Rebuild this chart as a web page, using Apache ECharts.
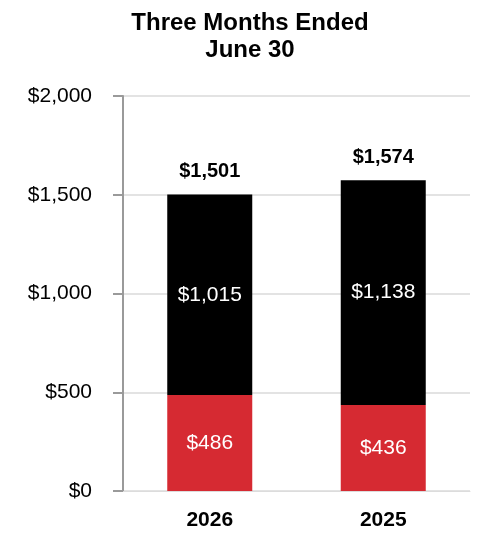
<!DOCTYPE html>
<html><head><meta charset="utf-8">
<script src="https://cdn.jsdelivr.net/npm/echarts@6/dist/echarts.min.js"></script>
<style>html,body{margin:0;padding:0;background:#fff}#c{width:500px;height:540px}</style>
</head><body><div id="c"></div>
<script>
const categories = ['2026', '2025'];
const redValues = [486, 436];
const blackValues = [1015, 1138];
const totals = [1501, 1574];
const yTicks = [0, 500, 1000, 1500, 2000];

const fmt = v => '$' + v.toLocaleString('en-US');
const FONT = '"Liberation Sans", Arial, sans-serif';

const chart = echarts.init(document.getElementById('c'));
chart.setOption({
  animation: false,
  title: {
    text: 'Three Months Ended\nJune 30',
    left: 245, top: 5, textAlign: 'center',
    textStyle: { fontFamily: FONT, fontSize: 24, fontWeight: 'bold', color: '#000', lineHeight: 27 }
  },
  grid: { left: 123, right: 30, top: 96, bottom: 49, containLabel: false },
  xAxis: {
    type: 'category', data: categories,
    axisLine: { lineStyle: { color: '#dcdcdc' } },
    axisTick: { show: false },
    axisLabel: { fontFamily: FONT, fontSize: 21, fontWeight: 'bold', color: '#000', margin: 19 }
  },
  yAxis: {
    type: 'value', min: yTicks[0], max: yTicks[yTicks.length - 1], interval: 500,
    axisLine: { show: true, lineStyle: { color: '#9a9a9a', width: 2 } },
    axisTick: { show: true, length: 10, lineStyle: { color: '#9a9a9a', width: 2 } },
    splitLine: { lineStyle: { color: '#e3e3e3', width: 2 } },
    axisLabel: { fontFamily: FONT, fontSize: 21, color: '#000', margin: 31, formatter: v => fmt(v) }
  },
  series: [
    {
      type: 'bar', stack: 't', data: redValues, barWidth: 85,
      itemStyle: { color: '#d62a32' },
      label: { show: true, position: 'inside', color: '#fff', fontFamily: FONT, fontSize: 21, formatter: p => fmt(p.value) }
    },
    {
      type: 'bar', stack: 't', data: blackValues, barWidth: 85,
      itemStyle: { color: '#000' },
      label: { show: true, position: 'inside', color: '#fff', fontFamily: FONT, fontSize: 21, formatter: p => fmt(p.value) }
    },
    {
      type: 'scatter', data: totals, symbolSize: 0, silent: true,
      itemStyle: { opacity: 1, color: '#000' },
      label: { show: true, position: 'top', distance: 13, opacity: 1, color: '#000', fontFamily: FONT, fontSize: 20, fontWeight: 'bold', formatter: p => fmt(p.value) }
    }
  ]
});
</script></body></html>
